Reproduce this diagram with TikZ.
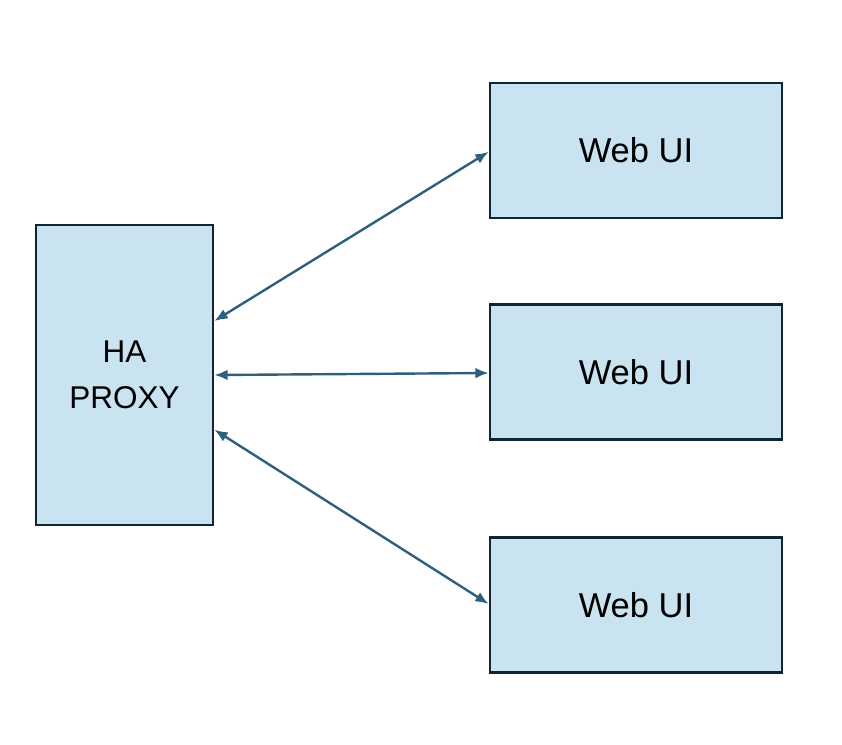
\documentclass[tikz,border=0pt]{standalone}
\usepackage{fontspec}
\setmainfont{Liberation Sans}
\usetikzlibrary{arrows.meta}
\definecolor{boxfill}{RGB}{201,227,241}
\definecolor{boxline}{RGB}{15,37,53}
\definecolor{linkline}{RGB}{47,95,127}
\tikzset{
	srvbox/.style={draw=boxline, fill=boxfill, line width=2pt, inner sep=0pt, align=center, font=\fontsize{25.9}{34}\selectfont},
	link/.style={draw=linkline, line width=1.8pt, {Latex[length=10pt,width=8pt]}-{Latex[length=10pt,width=8pt]}}
}
\begin{document}
\begin{tikzpicture}[x=0.75pt,y=0.75pt,yscale=-1,xscale=1]
		\useasboundingbox (0,0) rectangle (842,744);
		
		% Proxy Node
		\node [srvbox, minimum width=132.75pt, minimum height=225pt, font=\fontsize{23.6}{34.5}\selectfont] (proxy) at (124.5,375) {HA\\PROXY};
		% Web Nodes
		\node [srvbox, minimum width=219pt, minimum height=101.25pt] (webA) at (636,150.5) {Web UI};
		\node [srvbox, minimum width=219pt, minimum height=101.25pt] (webB) at (636,372) {Web UI};
		\node [srvbox, minimum width=219pt, minimum height=101.25pt] (webC) at (636,605) {Web UI};
		
		%Straight Lines
		\draw [link] ([yshift=-40.5pt]proxy.east) -- ([yshift=1pt]webA.west);
		\draw [link] (proxy.east) -- ([yshift=0.75pt]webB.west);
		\draw [link] ([yshift=41pt]proxy.east) -- ([yshift=-0.75pt]webC.west);
	\end{tikzpicture}
\end{document}
